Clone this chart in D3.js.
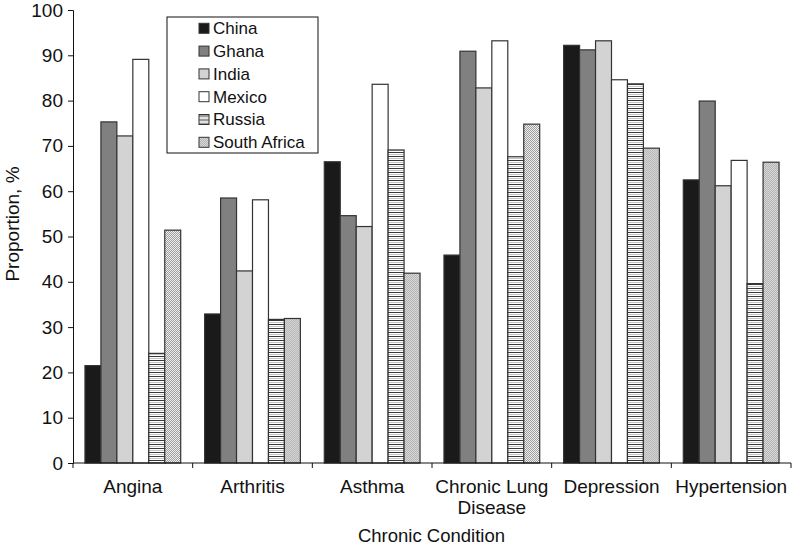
<!DOCTYPE html>
<html>
<head>
<meta charset="utf-8">
<script src="https://cdn.jsdelivr.net/npm/d3@7"></script>
<style>
  body { margin: 0; background: #fff; }
  text { font-family: "Liberation Sans", Arial, sans-serif; fill: #111; }
</style>
</head>
<body>
<div id="chart"></div>
<script>
var width = 792,
    height = 546
var margin = {top: 10, right: 1, bottom: 83, left: 73}

var conditions = ["Angina", "Arthritis", "Asthma", "Chronic Lung Disease", "Depression", "Hypertension"]
var countries = ["China", "Ghana", "India", "Mexico", "Russia", "South Africa"]
var china       = [21.5, 32.9, 66.5, 45.9, 92.2, 62.5]
var ghana       = [75.3, 58.5, 54.6, 90.9, 91.2, 79.9]
var india       = [72.2, 42.4, 52.2, 82.8, 93.2, 61.2]
var mexico      = [89.1, 58.1, 83.6, 93.2, 84.6, 66.8]
var russia      = [24.2, 31.7, 69.1, 67.6, 83.7, 39.6]
var southAfrica = [51.4, 31.9, 41.9, 74.8, 69.5, 66.4]
var yTicks = [0, 10, 20, 30, 40, 50, 60, 70, 80, 90, 100]

var series = [china, ghana, india, mexico, russia, southAfrica]

var svg = d3.select("#chart")
  .append("svg")
    .attr("width", width)
    .attr("height", height)

var defs = svg.append("defs")

// horizontal stripes for Russia
var stripes = defs.append("pattern")
  .attr("id", "stripes")
  .attr("patternUnits", "userSpaceOnUse")
  .attr("width", 4).attr("height", 4)
stripes.append("rect").attr("width", 4).attr("height", 4).attr("fill", "#fff")
stripes.append("rect").attr("y", 0).attr("width", 4).attr("height", 1).attr("fill", "#3a3a3a")
stripes.append("rect").attr("y", 2).attr("width", 4).attr("height", 1).attr("fill", "#c4c4c4")

// fine checker for South Africa
var checker = defs.append("pattern")
  .attr("id", "checker")
  .attr("patternUnits", "userSpaceOnUse")
  .attr("width", 2).attr("height", 2)
checker.append("rect").attr("width", 2).attr("height", 2).attr("fill", "#f2f2f2")
checker.append("rect").attr("width", 1).attr("height", 1).attr("fill", "#9a9a9a")
checker.append("rect").attr("x", 1).attr("y", 1).attr("width", 1).attr("height", 1).attr("fill", "#9a9a9a")

var fills = ["#1a1a1a", "#808080", "#d3d3d3", "#ffffff", "url(#stripes)", "url(#checker)"]

var color = d3.scaleOrdinal()
  .domain(countries)
  .range(fills)

var x = d3.scaleBand()
  .domain(conditions)
  .range([margin.left, width - margin.right])
  .paddingInner(0.2)
  .paddingOuter(0.1)

var xSub = d3.scaleBand()
  .domain(countries)
  .range([0, x.bandwidth()])
  .padding(0)

var y = d3.scaleLinear()
  .domain([0, 100])
  .range([height - margin.bottom, margin.top])

// bars
var groups = svg.selectAll("g.cond")
  .data(conditions)
  .enter()
  .append("g")
    .attr("class", "cond")
    .attr("transform", function(d) { return "translate(" + x(d) + ",0)" })

groups.selectAll("rect")
  .data(function(d, i) {
    return countries.map(function(c, j) { return {country: c, value: series[j][i]} })
  })
  .enter()
  .append("rect")
    .attr("x", function(d) { return xSub(d.country) })
    .attr("y", function(d) { return y(d.value) })
    .attr("width", xSub.bandwidth())
    .attr("height", function(d) { return y(0) - y(d.value) })
    .attr("fill", function(d) { return color(d.country) })
    .attr("stroke", "#333")
    .attr("stroke-width", 1.2)

// y axis
var yAxis = svg.append("g")
  .attr("transform", "translate(" + margin.left + ",0)")
  .call(d3.axisLeft(y).tickValues(yTicks).tickSize(5).tickPadding(5))
yAxis.selectAll("text").style("font-size", "19px")
yAxis.selectAll("line, path").attr("stroke", "#111")

// x axis: ticks at the category boundaries
var step = x.step()
var boundaries = d3.range(conditions.length + 1).map(function(i) {
  return margin.left + i * step
})
var xAxis = svg.append("g")
xAxis.append("line")
  .attr("x1", margin.left).attr("x2", width - margin.right)
  .attr("y1", y(0)).attr("y2", y(0))
  .attr("stroke", "#111")
xAxis.selectAll("line.tick")
  .data(boundaries)
  .enter()
  .append("line")
    .attr("class", "tick")
    .attr("x1", function(d) { return d }).attr("x2", function(d) { return d })
    .attr("y1", y(0)).attr("y2", y(0) + 5)
    .attr("stroke", "#111")

var labelLines = {"Chronic Lung Disease": ["Chronic Lung", "Disease"]}
xAxis.selectAll("text.cat")
  .data(conditions)
  .enter()
  .append("text")
    .attr("class", "cat")
    .attr("text-anchor", "middle")
    .style("font-size", "19px")
    .attr("x", function(d) { return x(d) + x.bandwidth() / 2 })
    .attr("y", y(0) + 30)
    .each(function(d) {
      var lines = labelLines[d] || [d]
      var t = d3.select(this)
      lines.forEach(function(l, i) {
        t.append("tspan")
          .attr("x", x(d) + x.bandwidth() / 2)
          .attr("dy", i === 0 ? 0 : 21)
          .text(l)
      })
    })

// axis titles
svg.append("text")
  .attr("text-anchor", "middle")
  .style("font-size", "18.5px")
  .attr("x", (margin.left + width) / 2 - 1)
  .attr("y", 542)
  .text("Chronic Condition")

svg.append("text")
  .attr("text-anchor", "middle")
  .style("font-size", "19px")
  .attr("transform", "translate(19,224) rotate(-90)")
  .text("Proportion, %")

// legend
var legend = svg.append("g")
legend.append("rect")
  .attr("x", 167).attr("y", 17)
  .attr("width", 151).attr("height", 136)
  .attr("fill", "#fff")
  .attr("stroke", "#111")

var rows = legend.selectAll("g.row")
  .data(countries)
  .enter()
  .append("g")
    .attr("class", "row")
    .attr("transform", function(d, i) { return "translate(199," + (28.3 + i * 22.8) + ")" })
rows.append("rect")
  .attr("x", 0).attr("y", -5)
  .attr("width", 10).attr("height", 10)
  .attr("fill", function(d) { return color(d) })
  .attr("stroke", "#333")
rows.append("text")
  .attr("x", 14)
  .attr("dy", "0.35em")
  .style("font-size", "17px")
  .text(function(d) { return d })
</script>
</body>
</html>
